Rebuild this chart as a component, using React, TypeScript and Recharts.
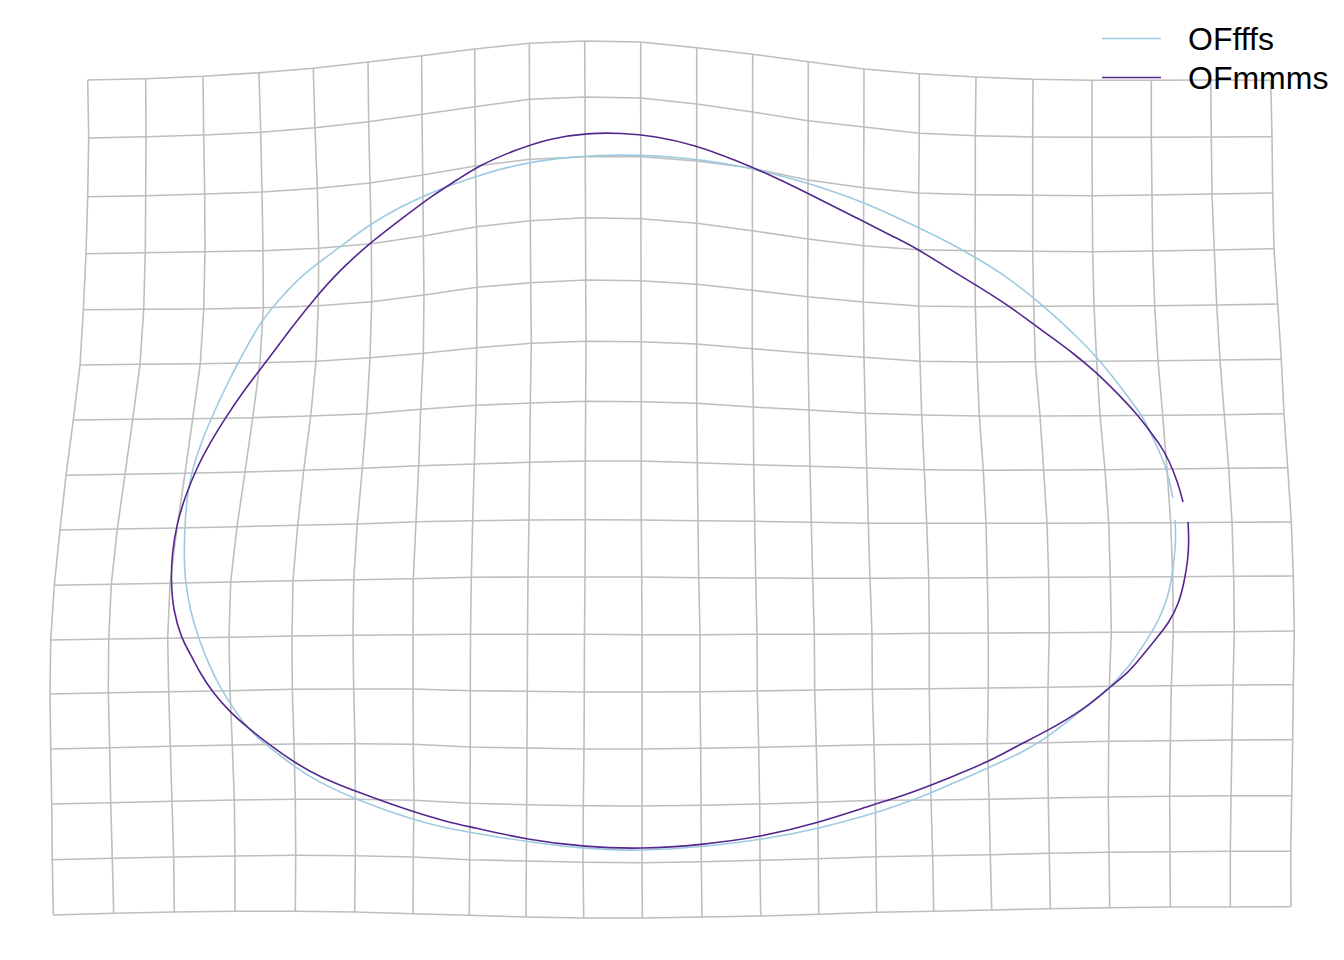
import { ComposedChart, Scatter, XAxis, YAxis } from "recharts";

const W = 1344;
const H = 960;

// deformed grid nodes, one row per horizontal line (16 rows x 22 columns)
const GRID_X: number[][] = [
  [87.7, 145.7, 203, 259, 313.3, 368, 421.7, 474.7, 529.3, 584.7, 640.7, 696.7, 752.7, 808.3, 864, 919.3, 976, 1033, 1092, 1151.3, 1210.7, 1270.7],
  [88.7, 146, 203.7, 260.7, 315, 368.7, 422, 475, 529.5, 585, 640.7, 696.7, 752.6, 808.2, 863.9, 919.3, 975.3, 1032.7, 1092, 1151.3, 1211.3, 1272],
  [87.7, 145.7, 204.7, 262, 317.3, 370, 422.7, 475.5, 530, 585.2, 640.8, 696.7, 752.5, 808, 863.7, 918.7, 975.3, 1032.7, 1092.3, 1152, 1212, 1272.7],
  [86, 145.3, 205, 263, 318.7, 371.3, 423.3, 476.5, 530.3, 585.5, 640.9, 696.7, 752.4, 807.9, 863.5, 918.7, 975, 1032.7, 1092.7, 1152.7, 1214.3, 1274],
  [83.3, 143.7, 203.7, 263.3, 318.3, 371.7, 424, 477, 530.7, 585.7, 641, 696.7, 752.3, 807.7, 863.3, 918.7, 975.3, 1033.7, 1094, 1154.7, 1216.7, 1277.7],
  [80, 140, 200.3, 260, 316, 370, 423.3, 476.7, 531.3, 586, 641.3, 696.7, 752.3, 808, 864, 920, 977, 1035.3, 1096.7, 1158, 1220, 1281.3],
  [73.3, 132.7, 192.7, 252.7, 310.7, 366.7, 420.7, 476, 530.3, 585.7, 641.3, 696.7, 753.3, 809, 865.3, 921.7, 979.3, 1040, 1100, 1162.7, 1224.3, 1284],
  [66, 125, 185, 245, 303.7, 362.3, 418.7, 474.3, 529.7, 585.3, 641.3, 697.3, 753.7, 810, 866.7, 924.3, 983.3, 1043.7, 1105, 1167, 1228.7, 1287.7],
  [60, 117.3, 177, 237, 297.7, 357.3, 416, 472.7, 529, 585.3, 641.3, 698, 754.7, 811.3, 868.3, 926.7, 986, 1047, 1108.7, 1170.7, 1232, 1291.3],
  [54.3, 111.3, 170, 230.7, 293, 353.7, 413.3, 471.3, 528, 585, 641.7, 698.7, 755.7, 812.7, 870, 928.7, 987.3, 1048.7, 1110.3, 1172.7, 1233.7, 1293.3],
  [50.7, 108.7, 167.7, 229, 292, 353, 413, 470.5, 527.5, 584.5, 642, 700, 757, 814.3, 872, 929.3, 988.3, 1049.3, 1111.3, 1173.3, 1234.3, 1294.3],
  [50, 108.3, 168.7, 230, 292.3, 353.7, 413, 470.3, 527.3, 584.3, 642, 700, 757.3, 814.7, 872.3, 929.3, 988.3, 1048, 1109.3, 1171.3, 1233, 1293.3],
  [50.7, 109.7, 170.3, 232.3, 294, 355, 413.3, 470.3, 527, 584, 642, 700.7, 758.7, 816.3, 874, 930, 987.3, 1047.7, 1108.7, 1170.3, 1232, 1292.7],
  [51.7, 110.7, 172, 234.3, 295.3, 355.3, 414, 470, 526.7, 583.3, 642, 701, 759.7, 817.7, 875.3, 931, 989, 1048.3, 1108.3, 1169.7, 1231, 1291.7],
  [52.3, 112.3, 173.7, 235, 295.7, 355.3, 413.3, 469.7, 526.3, 583, 642, 701.3, 760, 818.3, 876, 932.7, 990.3, 1049.3, 1109, 1170, 1230.3, 1290.7],
  [53.3, 113.7, 174.3, 235, 295.3, 354.7, 413, 469.3, 526, 583.7, 642.3, 702, 760.7, 818.7, 876.7, 933.7, 991.7, 1050.3, 1109.7, 1170.3, 1230.3, 1291],
];

const GRID_Y: number[][] = [
  [80, 78.7, 76.3, 72.7, 68.3, 62, 55.7, 49, 43.3, 41, 42, 47.7, 54.3, 61.7, 69, 73.7, 77, 79.3, 80.3, 80.3, 80, 80.3],
  [138, 136.7, 135, 132.3, 127.7, 121.7, 114.3, 106.7, 99.3, 97, 98, 104, 112, 120.7, 127, 133.3, 135.7, 137, 137.3, 137.3, 137, 136.7],
  [196.7, 195.7, 194, 192, 188.3, 183, 175, 166, 159.3, 156.7, 156.7, 161, 168.3, 180, 187.7, 193, 194.7, 195.3, 195.7, 195, 194, 193],
  [253.7, 252.7, 251.7, 250.7, 248.3, 243.7, 236, 226.7, 220.7, 217.7, 218.7, 223.3, 230.7, 239, 245.7, 249.7, 250.7, 251.3, 251.7, 251, 250, 248.7],
  [309.7, 309.3, 309, 307.7, 305.7, 301.7, 295, 287.3, 282.7, 280, 280.7, 284.3, 290.3, 296.7, 302, 306, 306.7, 306.3, 306, 305.7, 305, 304],
  [365, 364.3, 363.7, 362.7, 361.3, 357.7, 353.3, 347.7, 343.3, 341.3, 341.7, 344, 348.7, 353.3, 357.3, 361.3, 362, 361.7, 361.3, 360.7, 360, 359.3],
  [420, 419.3, 418.7, 417.7, 416, 413.7, 409.3, 405.3, 403, 401.3, 401.7, 403.3, 407, 410, 413.3, 415, 416, 416, 415.7, 415.3, 414.7, 413.7],
  [475.3, 474.3, 473.3, 472, 470.3, 468.3, 465.7, 464, 462.3, 461, 461, 462.7, 464.7, 466.3, 468, 469.7, 470.3, 470, 469.7, 469, 468.3, 467.7],
  [530, 529, 528, 526.7, 525.3, 524, 521.7, 520.7, 520, 519.7, 520, 520.7, 521.3, 522.3, 523.3, 523.3, 523.3, 523.3, 523, 522.7, 522.3, 522],
  [585.3, 584.3, 583.3, 582, 580.7, 579.7, 578.7, 577.3, 577, 577, 577, 577.7, 578, 578.3, 578.3, 578, 577.7, 577.3, 577, 576.7, 576.3, 576],
  [640, 639, 638.3, 637.3, 636, 635.3, 634.7, 634.3, 634.3, 634.3, 634.7, 634.7, 634.3, 634.3, 634, 633.3, 633, 632.7, 632.3, 632, 631.7, 631],
  [694, 692.7, 691.7, 690.7, 689.3, 689, 689, 690.7, 691.3, 692, 692, 691.7, 691, 690, 689.3, 688.7, 688, 687.3, 686.3, 685.7, 685, 684.7],
  [749, 747.7, 746.3, 745, 744, 743.7, 744.3, 747, 748, 749, 749, 748.3, 747.3, 746, 744.7, 744.3, 743.7, 742.7, 741.3, 740.7, 740, 739.7],
  [804, 802.7, 801.3, 800, 799.3, 799.3, 800.3, 803.3, 804.7, 805.7, 806, 805.3, 804, 802.3, 800.3, 800, 799.3, 798, 797, 796.3, 795.7, 795.7],
  [859.7, 858.3, 857, 856, 855.3, 855.7, 857, 859.7, 861, 862.3, 862.7, 861.7, 860.3, 858.7, 856.7, 855.7, 854.7, 853.3, 852.3, 851.7, 851.3, 851.3],
  [915, 913.3, 912, 911.3, 911.3, 912, 913.7, 915.3, 917, 918, 918, 917, 916, 914.3, 912.3, 911.3, 910, 908.7, 907.7, 907, 907, 906.7],
];

// outlines, traced as [x, y]
const OFFFFS: [number, number][] = [
  [1173, 498], [1167, 470], [1159, 450], [1149, 430], [1143, 417], [1129, 398], [1113, 377], [1096, 356],
  [1076, 336], [1058, 319], [1033, 297], [1003, 274], [973, 256], [946, 241], [916, 226.5], [896, 217],
  [865, 203], [835, 192], [801, 181], [765, 171.5], [725, 163], [681, 157.5], [641, 155], [598, 155],
  [558, 158], [515, 165], [480, 175], [457, 183], [430, 193], [400, 207], [370, 224], [340, 247],
  [318, 263], [297, 280], [277, 302], [260, 323], [245, 350], [229, 380], [215, 410], [202, 440],
  [193, 467], [188, 490], [185, 520], [184, 553], [185, 580], [190, 610], [199, 640], [210, 667],
  [220, 687], [230, 703], [243, 723], [260, 740], [277, 753], [295, 767], [320, 783], [357, 800],
  [413, 820], [448, 828.5], [471, 832.5], [528, 842], [585, 849], [642, 851], [701, 847], [760, 840],
  [818, 829], [875, 813], [896, 806], [929, 794], [956, 782], [988, 768], [1023, 752], [1048, 737],
  [1069, 720], [1093, 702], [1109, 688], [1129, 667], [1147, 640], [1159, 620], [1168, 597], [1172, 577],
  [1174, 560], [1176, 540], [1175, 520],
];

const OFMMMS: [number, number][] = [
  [1183, 502], [1178, 483], [1169, 460], [1159, 443], [1149, 430], [1136, 413], [1119, 395], [1096, 372],
  [1073, 353], [1049, 335.5], [1026, 318.5], [1003, 302], [976, 285], [946, 267], [916, 248], [896, 238],
  [855, 217], [815, 197], [775, 177], [735, 160], [695, 145], [655, 136], [621, 133], [588, 133],
  [551, 138], [515, 150], [480, 165], [457, 180], [433, 195], [400, 220], [370, 243], [340, 270],
  [315, 298], [292, 327], [275, 350], [262, 367], [242, 393], [224, 420], [210, 443], [197, 467],
  [185, 497], [177, 523], [172, 553], [171, 580], [173, 610], [182, 640], [190, 653], [200, 673],
  [213, 693], [230, 712], [247, 727], [267, 743], [295, 763], [320, 777], [357, 792], [413, 812],
  [448, 822], [471, 827], [528, 840], [585, 847], [642, 849], [701, 845], [760, 837], [818, 823],
  [875, 804], [896, 798], [929, 786], [956, 775], [988, 762], [1019, 745], [1049, 730], [1083, 710],
  [1109, 688], [1129, 672], [1143, 655], [1155, 640], [1169, 623], [1179, 603], [1184, 583], [1188, 560],
  [1189, 540], [1188, 522],
];

const SERIES_NAMES = ["OFfffs", "OFmmms"];
const SERIES_COLOURS = ["#9ECAE1", "#54278F"];
const GRID_COLOUR = "#BEBEBE";

const rows = GRID_X.map((xs, i) => xs.map((x, j) => ({ x, y: GRID_Y[i][j] })));
const cols = GRID_X[0].map((_, j) => GRID_X.map((xs, i) => ({ x: xs[j], y: GRID_Y[i][j] })));
const outlines = [OFFFFS, OFMMMS].map((pairs) => pairs.map(([x, y]) => ({ x, y })));

const NoDot = () => <g />;

export default function App() {
  return (
    <div style={{ position: "absolute", left: 0, top: 0, width: W, height: H, background: "#fff" }}>
      <ComposedChart width={W} height={H} margin={{ top: 0, right: 0, bottom: 0, left: 0 }}>
        <XAxis type="number" dataKey="x" domain={[0, W]} hide allowDataOverflow />
        <YAxis type="number" dataKey="y" domain={[0, H]} reversed hide allowDataOverflow />
        {[...rows, ...cols].map((pts, k) => (
          <Scatter
            key={`grid-${k}`}
            data={pts}
            fill={GRID_COLOUR}
            line={{ stroke: GRID_COLOUR, strokeWidth: 1.6 }}
            shape={NoDot}
            isAnimationActive={false}
          />
        ))}
        {outlines.map((pts, k) => (
          <Scatter
            key={SERIES_NAMES[k]}
            name={SERIES_NAMES[k]}
            data={pts}
            fill={SERIES_COLOURS[k]}
            line={{ stroke: SERIES_COLOURS[k], strokeWidth: 1.6 }}
            lineJointType="basis"
            shape={NoDot}
            isAnimationActive={false}
          />
        ))}
      </ComposedChart>
      <svg
        width={W}
        height={H}
        style={{ position: "absolute", left: 0, top: 0, pointerEvents: "none" }}
      >
        {SERIES_NAMES.map((name, k) => (
          <g key={name}>
            <line x1={1102} x2={1161} y1={38.5 + k * 39} y2={38.5 + k * 39} stroke={SERIES_COLOURS[k]} strokeWidth={1.5} />
            <text x={1188} y={49.5 + k * 39} fontSize={32} fontFamily="'Liberation Sans', Arial, sans-serif" fill="#000">
              {name}
            </text>
          </g>
        ))}
      </svg>
    </div>
  );
}
